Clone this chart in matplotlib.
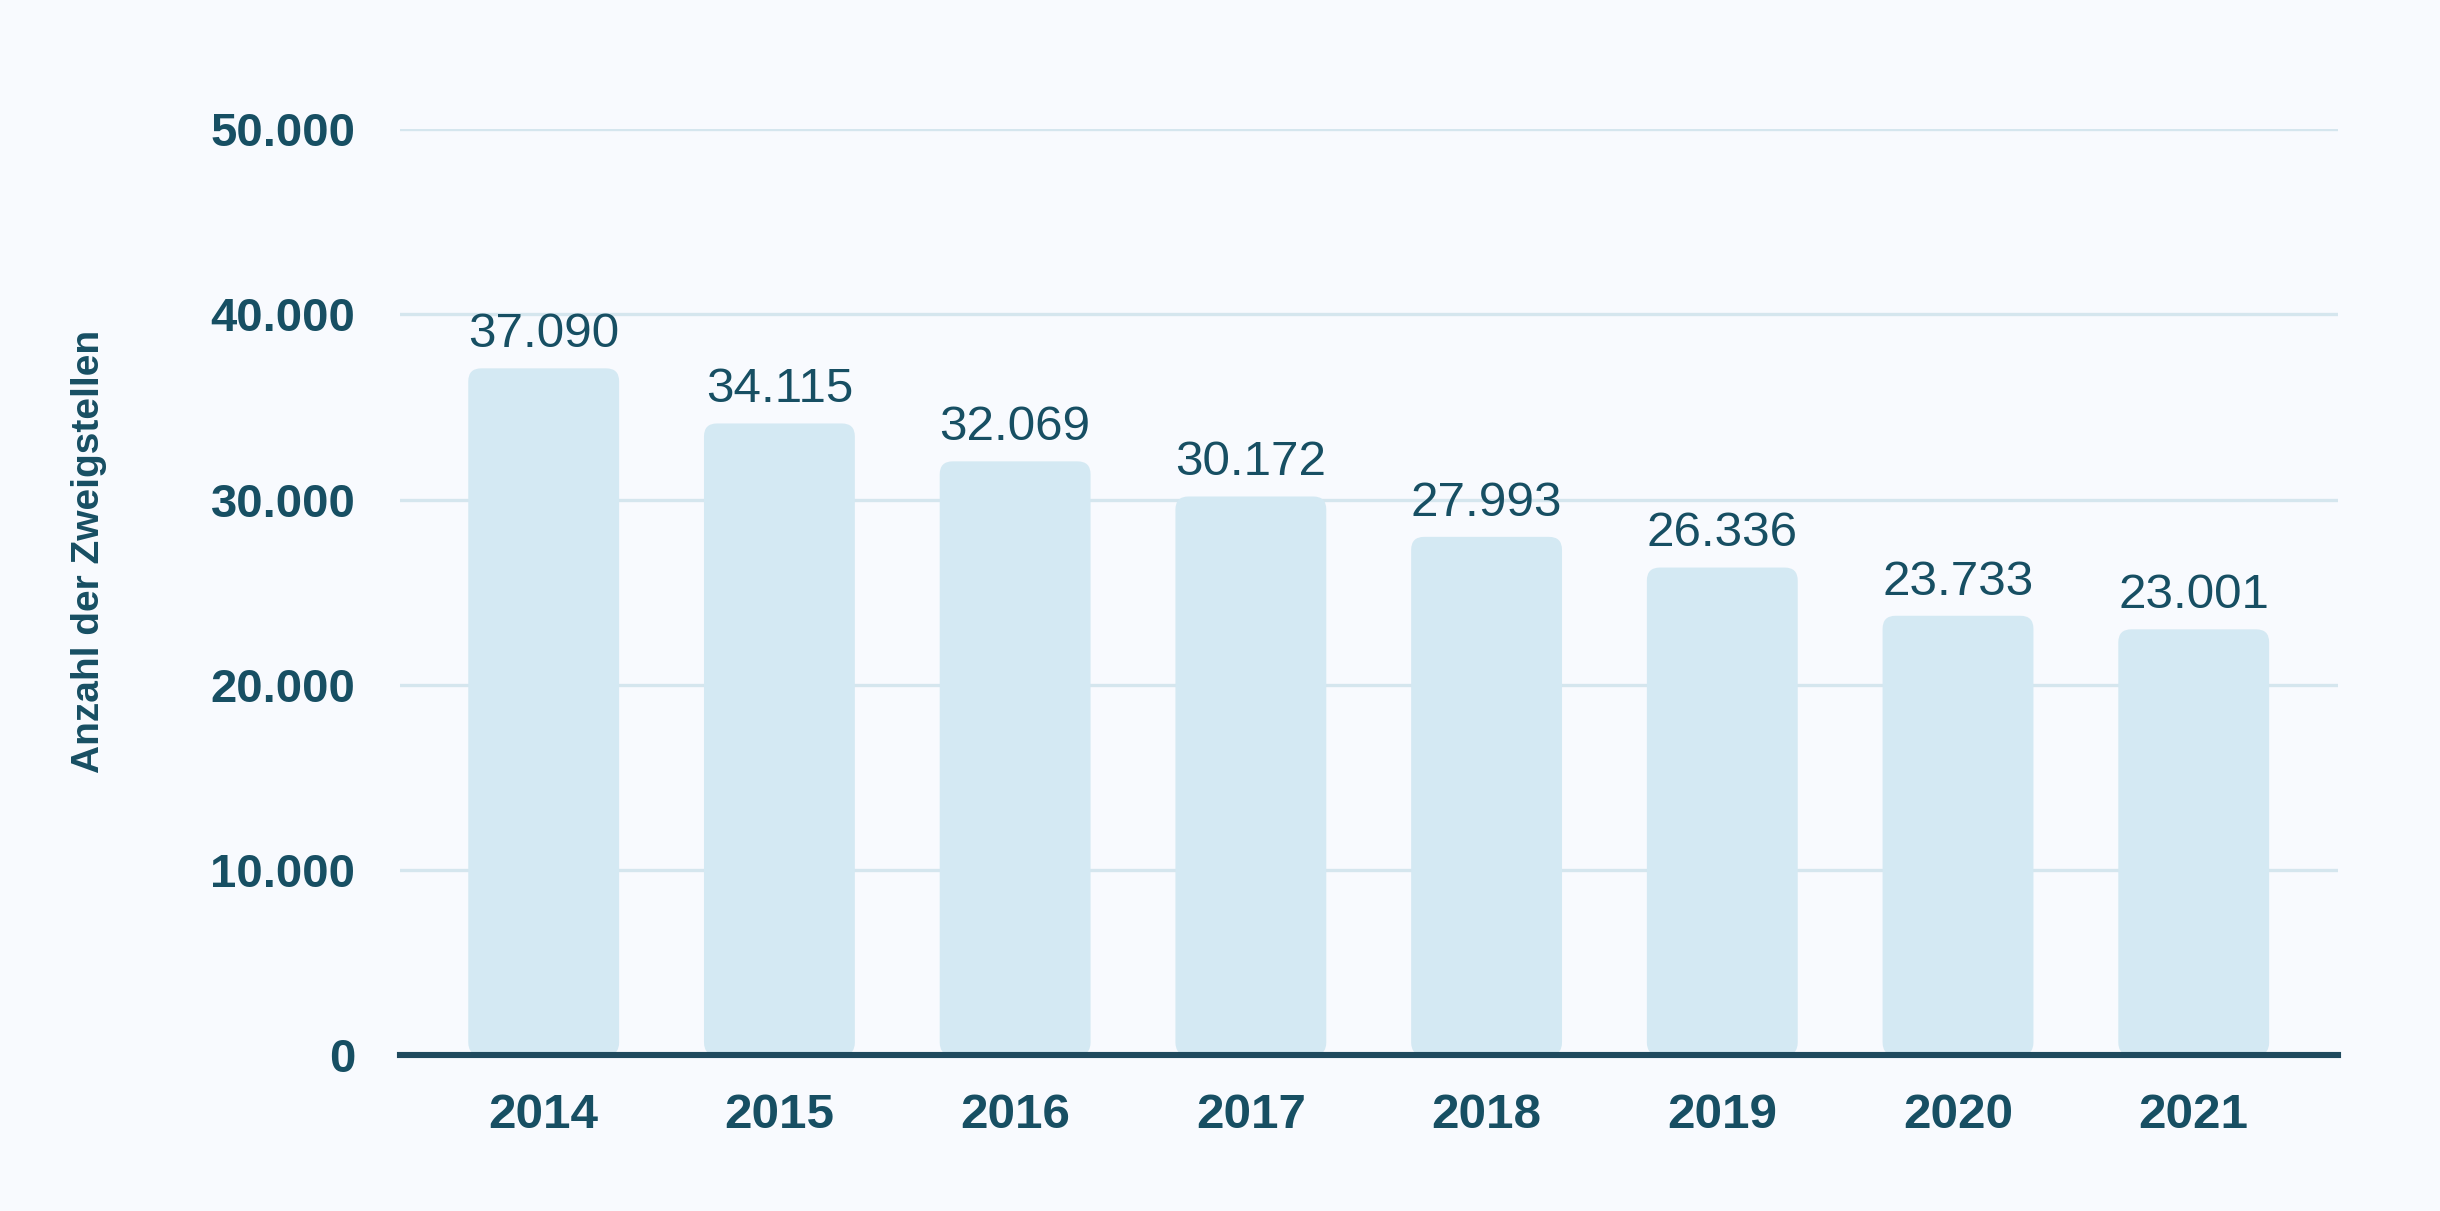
import matplotlib
matplotlib.use("Agg")
import matplotlib.pyplot as plt
from matplotlib.patches import FancyBboxPatch
from matplotlib.ticker import FuncFormatter

years = ["2014", "2015", "2016", "2017", "2018", "2019", "2020", "2021"]
values = [37090, 34115, 32069, 30172, 27993, 26336, 23733, 23001]
yticks = [0, 10000, 20000, 30000, 40000, 50000]
ylabel = "Anzahl der Zweigstellen"

BG = "#F8FAFE"
BAR = "#D4E9F3"
GRID = "#D5E6EE"
TEXT = "#174F63"
AXIS = "#1F4A5E"

plt.rcParams["font.family"] = ["Liberation Sans", "DejaVu Sans"]

W, H, DPI = 2440, 1211, 200
fig = plt.figure(figsize=(W / DPI, H / DPI), dpi=DPI, facecolor=BG)
ax = fig.add_axes([0.1639, 0.1285, 0.958 - 0.1639, 0.8933 - 0.1285])
ax.set_facecolor(BG)

x = list(range(len(years)))
ax.set_xlim(-0.61, len(years) - 1 + 0.61)
ax.set_ylim(0, 50000)

bw = 0.64
bars = ax.bar(x, values, width=bw, color=BAR, zorder=2)

# rounded corners
fig.canvas.draw()
bbox = ax.get_window_extent()
xr = ax.get_xlim()
yr = ax.get_ylim()
px_per_x = bbox.width / (xr[1] - xr[0])
px_per_y = bbox.height / (yr[1] - yr[0])
aspect = px_per_x / px_per_y
for b in bars:
    b.set_visible(False)
    p = FancyBboxPatch((b.get_x(), b.get_y()), b.get_width(), b.get_height(),
                       boxstyle="round,pad=0,rounding_size=0.055",
                       mutation_aspect=aspect, facecolor=BAR, edgecolor="none",
                       zorder=2)
    ax.add_patch(p)

for xi, v in zip(x, values):
    ax.annotate(f"{v:,}".replace(",", "."), (xi, v), xytext=(0, 4),
                textcoords="offset points", ha="center", va="bottom",
                fontsize=17.8, color=TEXT, zorder=3)

ax.set_yticks(yticks)
ax.yaxis.set_major_formatter(FuncFormatter(lambda v, p: f"{int(v):,}".replace(",", ".")))
ax.set_xticks(x)
ax.set_xticklabels(years)
ax.tick_params(axis="y", length=0, pad=16, labelsize=17, labelcolor=TEXT)
ax.tick_params(axis="x", length=0, pad=13.5, labelsize=17.8, labelcolor=TEXT)
for lab in ax.get_xticklabels() + ax.get_yticklabels():
    lab.set_fontweight("bold")

ax.grid(axis="y", color=GRID, linewidth=1.2, zorder=1)
ax.set_axisbelow(True)
for s in ["top", "right", "left"]:
    ax.spines[s].set_visible(False)
ax.spines["bottom"].set_color(AXIS)
ax.spines["bottom"].set_linewidth(2.2)
ax.spines["bottom"].set_zorder(4)

fig.text(0.0364, 0.545, ylabel, rotation=90, ha="center", va="center",
         fontsize=14, fontweight="bold", color=TEXT)

fig.savefig("out.png", dpi=DPI, facecolor=BG)
